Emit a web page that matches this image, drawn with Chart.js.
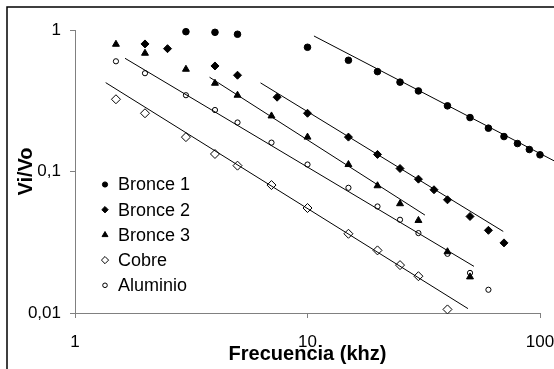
<!DOCTYPE html>
<html lang="es">
<head>
    <meta charset="UTF-8">
    <title>Vi/Vo vs Frecuencia</title>
    <script src="https://cdn.jsdelivr.net/npm/chart.js"></script>
    <style>
        body { margin: 0; background: #fff; }
        #wrap { position: relative; width: 554px; height: 369px; overflow: hidden; }
    </style>
</head>
<body>
    <div id="wrap">
        <canvas id="freqChart" width="554" height="369"></canvas>
    </div>

    <script>
        // Frequencies (khz) and Vi/Vo
        const freqBronce1 = [3, 4, 5, 10, 15, 20, 25, 30, 40, 50, 60, 70, 80, 90, 100];
        const valBronce1  = [0.973, 0.963, 0.933, 0.755, 0.611, 0.508, 0.428, 0.371, 0.291, 0.2405, 0.2024, 0.1766, 0.1576, 0.143, 0.1312];

        const freqBronce2 = [2, 2.5, 4, 5, 7.4, 10, 15, 20, 25, 30, 35, 40, 50, 60, 70];
        const valBronce2  = [0.797, 0.738, 0.557, 0.479, 0.335, 0.258, 0.175, 0.132, 0.105, 0.0883, 0.0743, 0.0631, 0.0481, 0.0384, 0.0313];

        const freqBronce3 = [1.5, 2, 3, 4, 5, 7, 10, 15, 20, 25, 30, 40, 50];
        const valBronce3  = [0.793, 0.685, 0.528, 0.4205, 0.346, 0.247, 0.175, 0.112, 0.0793, 0.0592, 0.0451, 0.0271, 0.018];

        const freqCobre = [1.5, 2, 3, 4, 5, 7, 10, 15, 20, 25, 30, 40];
        const valCobre  = [0.324, 0.258, 0.175, 0.133, 0.11, 0.0802, 0.0552, 0.0363, 0.0277, 0.0218, 0.0182, 0.0106];

        const freqAluminio = [1.5, 2, 3, 4, 5, 7, 10, 15, 20, 25, 30, 40, 50, 60];
        const valAluminio  = [0.601, 0.495, 0.346, 0.272, 0.222, 0.160, 0.112, 0.0767, 0.0566, 0.0456, 0.0367, 0.0262, 0.0192, 0.0146];

        // Power trendlines (start / end)
        const trendBronce1  = [{x: 10.66, y: 0.907}, {x: 114.9, y: 0.119}];
        const trendBronce2  = [{x: 6.28, y: 0.423}, {x: 69.5, y: 0.0377}];
        const trendBronce3  = [{x: 3.79, y: 0.4637}, {x: 32.0, y: 0.0492}];
        const trendCobre    = [{x: 1.355, y: 0.4247}, {x: 49.0, y: 0.01074}];
        const trendAluminio = [{x: 1.641, y: 0.631}, {x: 52.0, y: 0.02136}];

        // Axis ticks
        const xTicks = [1, 10, 100];
        const yTicks = [0.01, 0.1, 1];
        const yTickLabels = ['0,01', '0,1', '1'];

        function toPoints(xs, ys) {
            return xs.map((x, i) => ({x: x, y: ys[i]}));
        }

        function trend(points) {
            return {
                label: '_trend',
                data: points,
                showLine: true,
                borderColor: '#000',
                borderWidth: 1,
                pointRadius: 0,
                fill: false,
                clip: false
            };
        }

        // marker styles per series (plot and legend)
        const series = [
            {label: 'Bronce 1', x: freqBronce1, y: valBronce1, style: 'circle', r: 3.3, lr: 2.6, fill: '#000'},
            {label: 'Bronce 2', x: freqBronce2, y: valBronce2, style: 'rectRot', r: 4, lr: 3.2, fill: '#000'},
            {label: 'Bronce 3', x: freqBronce3, y: valBronce3, style: 'triangle', r: 4, lr: 3.4, fill: '#000'},
            {label: 'Cobre', x: freqCobre, y: valCobre, style: 'rectRot', r: 4.5, lr: 3.6, fill: '#fff'},
            {label: 'Aluminio', x: freqAluminio, y: valAluminio, style: 'circle', r: 2.6, lr: 2.3, fill: '#fff'}
        ];

        const datasets = [
            trend(trendBronce1), trend(trendBronce2), trend(trendBronce3),
            trend(trendCobre), trend(trendAluminio)
        ];
        series.forEach(s => {
            datasets.push({
                label: s.label,
                data: toPoints(s.x, s.y),
                pointStyle: s.style,
                pointRadius: s.r,
                pointBackgroundColor: s.fill,
                pointBorderColor: '#000',
                pointBorderWidth: 1,
                showLine: false,
                clip: false
            });
        });

        // outer frame + legend inside the plot
        const framePlugin = {
            id: 'frame',
            afterDraw(chart) {
                const ctx = chart.ctx;
                ctx.save();
                ctx.strokeStyle = '#000';
                ctx.lineWidth = 1.5;
                ctx.beginPath();
                ctx.moveTo(7, 369);
                ctx.lineTo(7, 7);
                ctx.lineTo(554, 7);
                ctx.stroke();

                // legend
                ctx.font = '18px "Liberation Sans", Arial, sans-serif';
                ctx.textBaseline = 'middle';
                ctx.textAlign = 'left';
                series.forEach((s, i) => {
                    const y = 184.5 + i * 25.2;
                    ctx.fillStyle = s.fill;
                    ctx.strokeStyle = '#000';
                    ctx.lineWidth = 1;
                    Chart.helpers.drawPoint(ctx, {pointStyle: s.style, radius: s.lr, borderWidth: 1, rotation: 0}, 105, y);
                    ctx.fillStyle = '#000';
                    ctx.fillText(s.label, 118, y + 1);
                });
                ctx.restore();
            }
        };

        const ctx = document.getElementById('freqChart').getContext('2d');
        const myChart = new Chart(ctx, {
            type: 'scatter',
            data: {datasets: datasets},
            plugins: [framePlugin],
            options: {
                responsive: false,
                animation: false,
                devicePixelRatio: 1,
                layout: {padding: {top: 30, right: 14, bottom: 0, left: 0}},
                plugins: {
                    legend: {display: false},
                    tooltip: {enabled: false}
                },
                scales: {
                    x: {
                        type: 'logarithmic',
                        min: 1,
                        max: 100,
                        afterBuildTicks: (scale) => { scale.ticks = xTicks.map(v => ({value: v})); },
                        afterFit: (scale) => {
                            scale.height = 56;
                            scale.paddingLeft = 0;
                            scale.paddingRight = 0;
                        },
                        ticks: {
                            color: '#000',
                            font: {family: '"Liberation Sans", Arial, sans-serif', size: 17},
                            padding: 14,
                            maxRotation: 0,
                            callback: (v) => String(v)
                        },
                        grid: {display: true, drawOnChartArea: false, drawTicks: true, tickLength: 5, color: '#808080'},
                        border: {color: '#808080', width: 1},
                        title: {
                            display: true,
                            text: 'Frecuencia (khz)',
                            color: '#000',
                            font: {family: '"Liberation Sans", Arial, sans-serif', size: 20, weight: 'bold'},
                            padding: {top: 0, bottom: 3}
                        }
                    },
                    y: {
                        type: 'logarithmic',
                        min: 0.01,
                        max: 1,
                        afterBuildTicks: (scale) => { scale.ticks = yTicks.map(v => ({value: v})); },
                        afterFit: (scale) => {
                            scale.width = 75;
                            scale.paddingTop = 0;
                            scale.paddingBottom = 0;
                        },
                        ticks: {
                            color: '#000',
                            font: {family: '"Liberation Sans", Arial, sans-serif', size: 17},
                            padding: 9,
                            callback: (v) => yTickLabels[yTicks.indexOf(v)]
                        },
                        grid: {display: true, drawOnChartArea: false, drawTicks: true, tickLength: 5, color: '#808080'},
                        border: {color: '#808080', width: 1},
                        title: {
                            display: true,
                            text: 'Vi/Vo',
                            color: '#000',
                            font: {family: '"Liberation Sans", Arial, sans-serif', size: 20, weight: 'bold'},
                            padding: {top: 14, bottom: 0}
                        }
                    }
                }
            }
        });
    </script>
</body>
</html>
